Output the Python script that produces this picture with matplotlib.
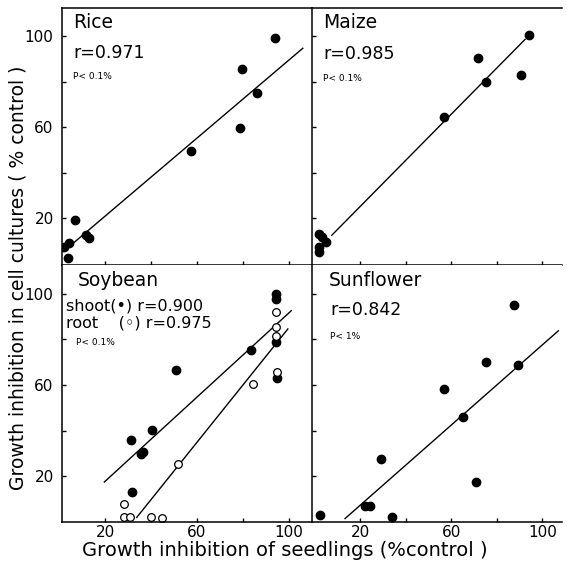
import matplotlib.pyplot as plt

plt.rcParams['font.family'] = ['DejaVu Sans']

# values (% control)
rice_x = [93.9, 79.4, 86.0, 78.7, 57.4, 7.0, 11.6, 13.2, 4.5, 2.2, 4.1]
rice_y = [99.2, 85.5, 75.2, 59.7, 49.8, 19.1, 12.8, 11.5, 9.2, 7.3, 2.6]
rice_fit_x = [2, 106]
rice_fit_y = [5.5, 94.8]

maize_x = [94.3, 71.9, 90.5, 75.3, 56.7, 2.0, 3.5, 5.0, 2.0, 2.0]
maize_y = [100.8, 90.7, 83.2, 80.0, 64.5, 13.0, 12.0, 9.8, 7.5, 5.0]
maize_fit_x = [7.6, 92.4]
maize_fit_y = [12.6, 98.7]

soy_shoot_x = [94.2, 94.3, 94.3, 94.6, 83.5, 50.9, 40.3, 36.7, 35.7, 31.2, 31.6]
soy_shoot_y = [100.0, 97.7, 78.8, 63.1, 75.5, 66.7, 40.2, 30.8, 29.6, 35.7, 13.1]
soy_root_x = [94.2, 94.2, 94.3, 94.6, 84.5, 51.9, 28.4, 28.4, 30.9, 39.8, 44.9]
soy_root_y = [91.8, 85.3, 81.3, 65.8, 60.5, 25.5, 7.8, 2.0, 2.0, 2.0, 1.7]
shoot_fit_x = [19.7, 101]
shoot_fit_y = [17.5, 92.5]
root_fit_x = [33.8, 99.5]
root_fit_y = [2.0, 84.5]

sun_x = [87.7, 75.3, 89.4, 56.8, 65.0, 29.1, 70.7, 22.2, 24.4, 33.9, 2.2]
sun_y = [95.0, 70.1, 68.7, 58.4, 46.1, 27.6, 17.4, 6.8, 6.8, 2.1, 3.2]
sun_fit_x = [13.4, 107]
sun_fit_y = [1.5, 83.7]

ticks = [20, 40, 60, 80, 100]
tick_labels = ['20', '', '60', '', '100']

fig = plt.figure(figsize=(5.67, 5.61), dpi=100)
L, R, W = 62 / 567, 312 / 567, 250 / 567
H = 257 / 561
top_b, bot_b = 1 - 265 / 561, 1 - 522 / 561

ax_rice = fig.add_axes([L, top_b, W, H])
ax_maize = fig.add_axes([R, top_b, W, H])
ax_soy = fig.add_axes([L, bot_b, W, H])
ax_sun = fig.add_axes([R, bot_b, W, H])

for ax in (ax_rice, ax_soy):
    ax.set_xlim(1.3, 110)
for ax in (ax_maize, ax_sun):
    ax.set_xlim(-1.1, 108.6)
for ax in (ax_rice, ax_maize):
    ax.set_ylim(-0.5, 112.5)
for ax in (ax_soy, ax_sun):
    ax.set_ylim(0, 112.5)

for ax in (ax_rice, ax_maize, ax_soy, ax_sun):
    ax.set_xticks(ticks)
    ax.set_yticks(ticks)
    ax.tick_params(direction='in', length=3, width=1, labelsize=11,
                   top=False, right=False)
    ax.tick_params(axis='y', pad=6)
    ax.tick_params(axis='x', pad=2)
    for s in ax.spines.values():
        s.set_linewidth(1.1)
    ax.spines['right'].set_visible(False)

# spines: only the outer frame and the dividing lines
ax_soy.spines['top'].set_visible(False)
ax_sun.spines['top'].set_visible(False)

ax_rice.set_yticklabels(tick_labels)
ax_soy.set_yticklabels(tick_labels)
ax_maize.set_yticklabels([])
ax_sun.set_yticklabels([])
ax_rice.set_xticklabels([])
ax_maize.set_xticklabels([])
ax_soy.set_xticklabels(tick_labels)
ax_sun.set_xticklabels(tick_labels)

dot = dict(marker='o', ms=6, color='black', linestyle='none')
ring = dict(marker='o', ms=5.5, mfc='white', mec='black', mew=0.9, linestyle='none')

ax_rice.plot(rice_fit_x, rice_fit_y, color='black', lw=1)
ax_rice.plot(rice_x, rice_y, **dot)
ax_maize.plot(maize_fit_x, maize_fit_y, color='black', lw=1)
ax_maize.plot(maize_x, maize_y, **dot)
ax_soy.plot(shoot_fit_x, shoot_fit_y, color='black', lw=1)
ax_soy.plot(root_fit_x, root_fit_y, color='black', lw=1)
ax_soy.plot(soy_shoot_x, soy_shoot_y, **dot)
ax_soy.plot(soy_root_x, soy_root_y, **ring)
ax_sun.plot(sun_fit_x, sun_fit_y, color='black', lw=1)
ax_sun.plot(sun_x, sun_y, **dot)


def label(ax, lines):
    for (txt, x, y, size) in lines:
        ax.text(x, y, txt, transform=ax.transAxes, fontsize=size,
                ha='left', va='center')


label(ax_rice, [('Rice', 0.044, 0.942, 13.5),
                ('r=0.971', 0.044, 0.825, 12.5),
                ('P< 0.1%', 0.044, 0.735, 6.5)])
label(ax_maize, [('Maize', 0.044, 0.942, 13.5),
                 ('r=0.985', 0.044, 0.82, 12.5),
                 ('P< 0.1%', 0.044, 0.727, 6.5)])
label(ax_soy, [('Soybean', 0.064, 0.938, 13.5),
               ('shoot(•) r=0.900', 0.016, 0.84, 11.5),
               ('root    (◦) r=0.975', 0.016, 0.774, 11.5),
               ('P< 0.1%', 0.056, 0.70, 6.5)])
label(ax_sun, [('Sunflower', 0.068, 0.938, 13.5),
               ('r=0.842', 0.072, 0.825, 12.5),
               ('P< 1%', 0.072, 0.72, 6.5)])

fig.text(285 / 567, 1 - 551 / 561, 'Growth inhibition of seedlings (%control )',
         ha='center', va='center', fontsize=14)
fig.text(18 / 567, 1 - 278 / 561, 'Growth inhibition in cell cultures ( % control )',
         ha='center', va='center', rotation=90, fontsize=13.5)

fig.savefig('out.png', dpi=100)
